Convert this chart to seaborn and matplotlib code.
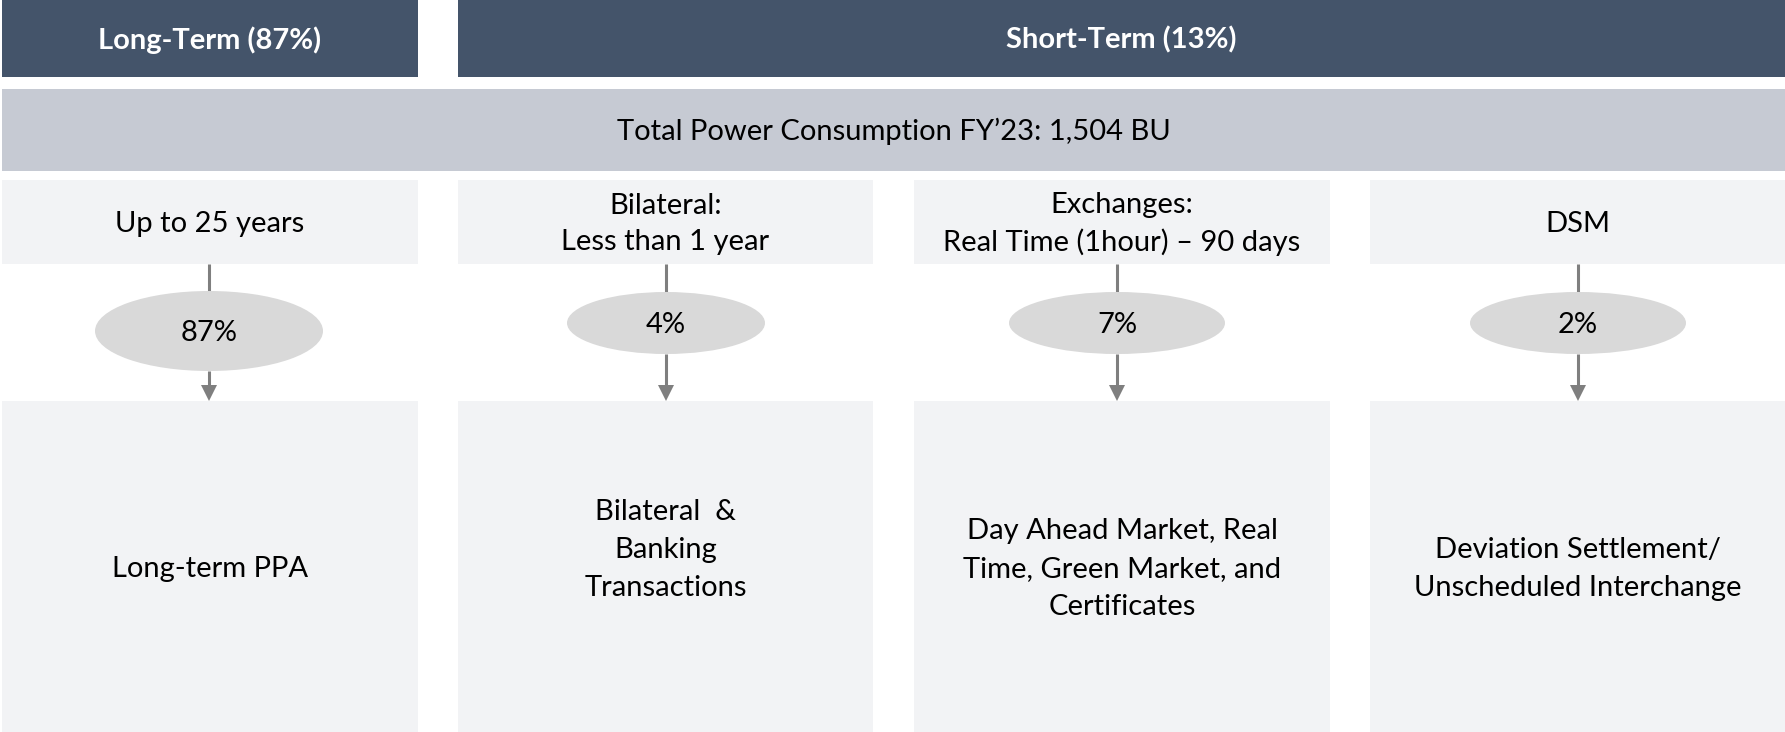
import matplotlib
matplotlib.use("Agg")
import matplotlib.pyplot as plt
from matplotlib.patches import Rectangle, Ellipse, Polygon
import seaborn as sns

# ---- data ----
headers = ["Long-Term (87%)", "Short-Term (13%)"]
total_label = "Total Power Consumption FY\u201923: 1,504 BU"
durations = ["Up to 25 years", "Bilateral:\nLess than 1 year",
             "Exchanges:\nReal Time (1hour) \u2013 90 days", "DSM"]
shares = [87, 4, 7, 2]
share_labels = [f"{v}%" for v in shares]
descriptions = ["Long-term PPA", "Bilateral  &\nBanking\nTransactions",
                "Day Ahead Market, Real\nTime, Green Market, and\nCertificates",
                "Deviation Settlement/\nUnscheduled Interchange"]

# ---- style ----
sns.set_theme(style="white")
plt.rcParams["font.family"] = ["Lato", "DejaVu Sans"]

W, H = 1785, 732
fig = plt.figure(figsize=(W / 100, H / 100), dpi=100)
ax = fig.add_axes([0, 0, 1, 1])
ax.set_xlim(0, W)
ax.set_ylim(H, 0)
ax.axis("off")

DARK = "#44546A"
BAND = "#C6CAD3"
LIGHT = "#F2F3F5"
OVAL = "#D9D9D9"
ARROW = "#7F7F7F"
FS = 21

cols = [(2, 418), (458, 873), (914, 1330), (1370, 1785)]
arrow_x = [209, 666, 1117, 1578]
oval_geom = [(331, 228, 80), (323, 198, 62), (323, 216, 62), (323, 216, 62)]
desc_y = [569, 550, 569, 569]

# headers
head_spans = [(cols[0][0], cols[0][1]), (cols[1][0], cols[3][1])]
for (x0, x1), lab in zip(head_spans, headers):
    ax.add_patch(Rectangle((x0, 0), x1 - x0, 77, color=DARK, lw=0))
    ax.text((x0 + x1) / 2, 40, lab, color="white", fontsize=FS,
            fontweight="bold", ha="center", va="center")

# total band
ax.add_patch(Rectangle((2, 89), W - 2, 82, color=BAND, lw=0))
ax.text((2 + W) / 2, 131, total_label, color="black", fontsize=FS,
        ha="center", va="center")

for i, (x0, x1) in enumerate(cols):
    ax.add_patch(Rectangle((x0, 180), x1 - x0, 84, color=LIGHT, lw=0))
    ax.add_patch(Rectangle((x0, 401), x1 - x0, H - 401, color=LIGHT, lw=0))
    ax.text((x0 + x1) / 2, 224, durations[i], color="black", fontsize=FS,
            ha="center", va="center", linespacing=1.49)
    cy, ew, eh = oval_geom[i]
    px = arrow_x[i]
    ax.plot([px, px], [264, cy - eh / 2], color=ARROW, lw=2.2,
            solid_capstyle="butt", zorder=2)
    ax.plot([px, px], [cy + eh / 2, 386], color=ARROW, lw=2.2,
            solid_capstyle="butt", zorder=2)
    ax.add_patch(Polygon([(px - 8, 385), (px + 8, 385), (px, 401)],
                         closed=True, color=ARROW, lw=0, zorder=2))
    ax.add_patch(Ellipse((px, cy), ew, eh, color=OVAL, lw=0, zorder=3))
    ax.text(px, cy + 2, share_labels[i], color="black", fontsize=FS,
            ha="center", va="center", zorder=4)
    ax.text((x0 + x1) / 2, desc_y[i], descriptions[i], color="black",
            fontsize=FS, ha="center", va="center", linespacing=1.59)

fig.savefig("out.png", dpi=100, facecolor="white")
